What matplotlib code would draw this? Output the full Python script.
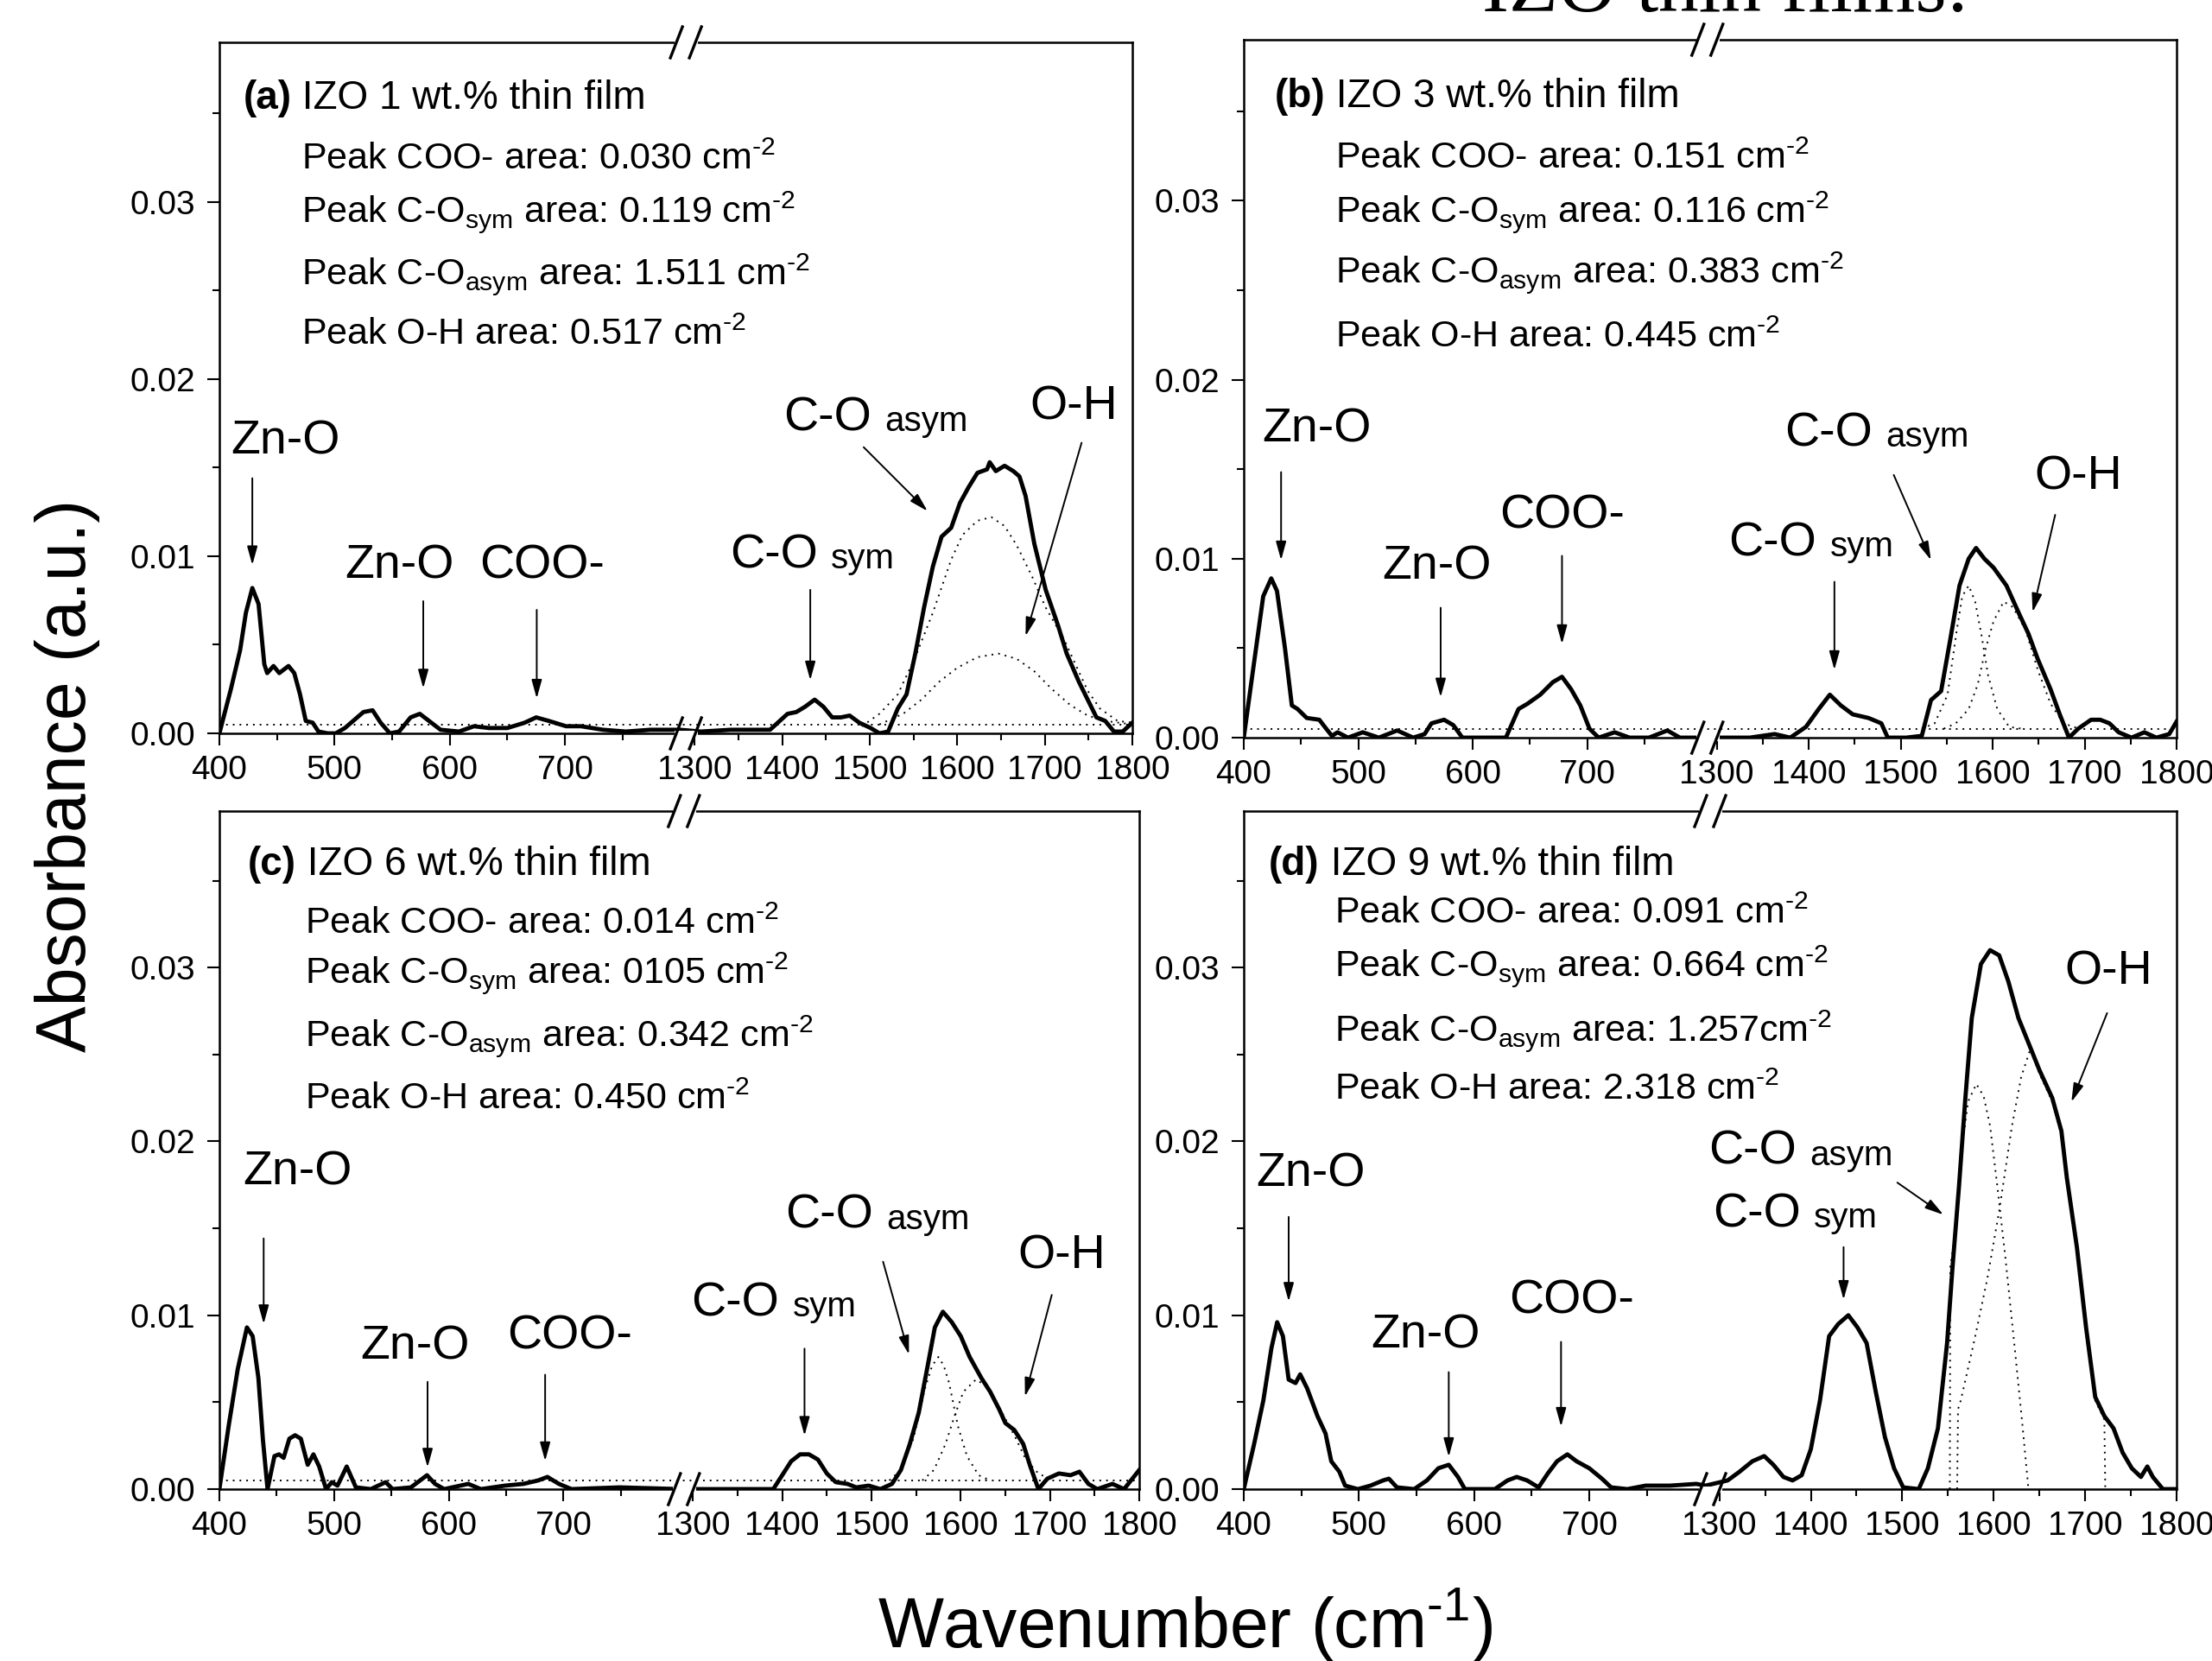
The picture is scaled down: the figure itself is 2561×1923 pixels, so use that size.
# FTIR spectra of IZO thin films, four panels with a broken wavenumber axis
import numpy as np
import matplotlib
matplotlib.use("Agg")
import matplotlib.pyplot as plt
from matplotlib.ticker import FixedLocator, FixedFormatter, MultipleLocator

plt.rcParams["font.family"] = ["Liberation Sans", "DejaVu Sans"]
plt.rcParams["mathtext.fontset"] = "custom"
plt.rcParams["mathtext.rm"] = "Liberation Sans"
plt.rcParams["mathtext.it"] = "Liberation Sans:italic"
plt.rcParams["mathtext.bf"] = "Liberation Sans:bold"

HY = "\u2010"  # short hyphen for the cm-2 / cm-1 superscripts

# ---- data: (wavenumber, absorbance) ----
a_spec = [(400, 0.0), (410, 0.0025), (418, 0.0047), (423, 0.0068), (428.6, 0.0082), (434, 0.0073),
          (439, 0.0039), (441.5, 0.0034), (447, 0.0038), (452, 0.0034), (460, 0.0038), (465, 0.0034),
          (470, 0.0022), (475, 0.0007), (481, 0.0006), (486, 0.0001), (494, 0.0), (501, 0.0),
          (509, 0.0003), (525, 0.0012), (533, 0.0013), (540, 0.0006), (548, 0.0), (556, 0.0001),
          (566, 0.0009), (574, 0.0011), (582, 0.0007), (592, 0.0002), (608, 0.0001), (621, 0.0004),
          (634, 0.0003), (650, 0.0003), (665, 0.0006), (675, 0.0009), (686, 0.0007), (701, 0.0004),
          (714, 0.0004), (733, 0.0002), (753, 0.0001), (774, 0.0002), (800, 0.0002), (1307, 0.0001),
          (1341, 0.0002), (1369, 0.0002), (1386, 0.0002), (1406, 0.0011), (1416, 0.0012), (1426, 0.0015),
          (1437, 0.0019), (1447, 0.0015), (1457, 0.0009), (1467, 0.0009), (1477, 0.0010), (1488, 0.0006),
          (1501, 0.0003), (1511, 0.0), (1521, 0.0001), (1532, 0.0014), (1542, 0.0022), (1552, 0.0045),
          (1562, 0.0071), (1572, 0.0094), (1582, 0.0111), (1593, 0.0116), (1603, 0.0130), (1613, 0.0139),
          (1623, 0.0147), (1634, 0.0149), (1637, 0.0153), (1644, 0.0148), (1654, 0.0151), (1664, 0.0148),
          (1671, 0.0145), (1678, 0.0134), (1688, 0.0107), (1701, 0.0081), (1715, 0.0061), (1725, 0.0045),
          (1739, 0.0029), (1749, 0.0019), (1759, 0.0009), (1769, 0.0007), (1779, 0.0001), (1789, 0.0001),
          (1800, 0.0006)]
a_asym = [(1491, 0.0004), (1511, 0.0011), (1532, 0.0022), (1552, 0.0043), (1572, 0.0068), (1593, 0.0098),
          (1606, 0.0112), (1623, 0.0120), (1639, 0.0122), (1654, 0.0117), (1668, 0.0106), (1685, 0.0089),
          (1701, 0.0071), (1722, 0.0053), (1735, 0.0039), (1749, 0.0024), (1763, 0.0014), (1783, 0.0007),
          (1800, 0.0006)]
a_oh = [(1511, 0.0005), (1538, 0.0011), (1559, 0.0019), (1579, 0.0029), (1600, 0.0037), (1623, 0.0043),
        (1647, 0.0045), (1668, 0.0042), (1688, 0.0035), (1708, 0.0025), (1729, 0.0016), (1749, 0.0010),
        (1769, 0.0007), (1800, 0.0005)]

b_spec = [(400, 0.0), (409, 0.0042), (417, 0.0079), (424, 0.0089), (429, 0.0082), (436, 0.0050),
          (442, 0.0018), (447, 0.0016), (455, 0.0011), (466, 0.0010), (472, 0.0005), (477, 0.0001),
          (482, 0.0003), (491, 0.0), (504, 0.0003), (518, 0.0), (534, 0.0004), (548, 0.0),
          (558, 0.0002), (564, 0.0008), (575, 0.0010), (583, 0.0007), (591, 0.0), (607, 0.0),
          (629, 0.0), (640, 0.0016), (648, 0.0019), (659, 0.0024), (670, 0.0031), (678, 0.0034),
          (686, 0.0027), (694, 0.0018), (702, 0.0005), (710, 0.0), (724, 0.0003), (737, 0.0),
          (754, 0.0), (770, 0.0004), (781, 0.0), (795, 0.0), (1309, 0.0), (1336, 0.0),
          (1363, 0.0002), (1380, 0.0), (1397, 0.0006), (1411, 0.0016), (1423, 0.0024), (1435, 0.0018),
          (1448, 0.0013), (1465, 0.0011), (1479, 0.0008), (1486, 0.0), (1506, 0.0), (1523, 0.0001),
          (1533, 0.0021), (1544, 0.0026), (1554, 0.0055), (1564, 0.0085), (1574, 0.0100), (1582, 0.0106),
          (1591, 0.0100), (1601, 0.0095), (1615, 0.0085), (1629, 0.0069), (1639, 0.0058), (1649, 0.0044),
          (1663, 0.0027), (1673, 0.0013), (1683, 0.0), (1693, 0.0005), (1707, 0.0010), (1717, 0.0010),
          (1727, 0.0008), (1737, 0.0003), (1751, 0.0), (1765, 0.0003), (1778, 0.0), (1792, 0.0002),
          (1800, 0.0009)]
b_asym = [(1523, 0.0005), (1537, 0.0008), (1551, 0.0024), (1561, 0.0060), (1567, 0.0079), (1574, 0.0085),
          (1581, 0.0076), (1588, 0.0057), (1595, 0.0035), (1605, 0.0016), (1618, 0.0006), (1632, 0.0005)]
b_oh = [(1547, 0.0005), (1560, 0.0008), (1574, 0.0016), (1584, 0.0030), (1592, 0.0049), (1601, 0.0065),
        (1612, 0.0076), (1622, 0.0073), (1636, 0.0060), (1649, 0.0038), (1663, 0.0019), (1677, 0.0008),
        (1694, 0.0005)]

c_spec = [(400, 0.0), (408, 0.0036), (416, 0.0069), (424, 0.0093), (429, 0.0088), (434, 0.0064),
          (438, 0.0028), (442, 0.0), (448, 0.0019), (452, 0.0020), (456, 0.0018), (461, 0.0029),
          (466, 0.0031), (471, 0.0029), (477, 0.0014), (482, 0.0020), (487, 0.0013), (493, 0.0),
          (498, 0.0004), (503, 0.0002), (511, 0.0013), (519, 0.0001), (532, 0.0), (545, 0.0004),
          (551, 0.0), (567, 0.0001), (575, 0.0005), (581, 0.0008), (588, 0.0003), (596, 0.0),
          (617, 0.0003), (628, 0.0), (649, 0.0002), (665, 0.0003), (678, 0.0005), (686, 0.0007),
          (696, 0.0003), (707, 0.0), (749, 0.0001), (802, 0.0), (1303, 0.0), (1363, 0.0),
          (1390, 0.0), (1400, 0.0008), (1410, 0.0016), (1420, 0.0020), (1430, 0.0020), (1440, 0.0017),
          (1450, 0.0009), (1460, 0.0004), (1473, 0.0003), (1483, 0.0001), (1497, 0.0002), (1510, 0.0),
          (1523, 0.0003), (1533, 0.0011), (1543, 0.0026), (1553, 0.0044), (1563, 0.0071), (1571, 0.0093),
          (1580, 0.0102), (1590, 0.0096), (1600, 0.0088), (1610, 0.0076), (1623, 0.0064), (1633, 0.0056),
          (1643, 0.0046), (1650, 0.0038), (1660, 0.0034), (1670, 0.0026), (1678, 0.0013), (1687, 0.0),
          (1697, 0.0006), (1710, 0.0009), (1723, 0.0008), (1733, 0.0010), (1743, 0.0003), (1753, 0.0),
          (1770, 0.0003), (1783, 0.0), (1800, 0.0011)]
c_asym = [(1520, 0.0005), (1533, 0.0011), (1547, 0.0029), (1560, 0.0058), (1568, 0.0071), (1575, 0.0076),
          (1581, 0.0071), (1587, 0.0061), (1597, 0.0036), (1607, 0.0019), (1620, 0.0008), (1633, 0.0005)]
c_oh = [(1557, 0.0005), (1570, 0.0011), (1583, 0.0026), (1593, 0.0042), (1603, 0.0056), (1617, 0.0063),
        (1630, 0.0059), (1643, 0.0047), (1660, 0.0031), (1673, 0.0017), (1687, 0.0009), (1703, 0.0005)]

d_spec = [(400, 0.0), (409, 0.0026), (417, 0.0051), (424, 0.0081), (429, 0.0096), (434, 0.0088),
          (439, 0.0063), (445, 0.0061), (449, 0.0066), (455, 0.0058), (464, 0.0042), (471, 0.0032),
          (476, 0.0016), (483, 0.0010), (488, 0.0002), (499, 0.0), (510, 0.0002), (521, 0.0005),
          (526, 0.0006), (533, 0.0001), (548, 0.0), (559, 0.0005), (569, 0.0012), (578, 0.0014),
          (586, 0.0007), (592, 0.0), (618, 0.0), (629, 0.0005), (637, 0.0007), (646, 0.0005),
          (656, 0.0001), (664, 0.0009), (672, 0.0016), (681, 0.0020), (689, 0.0016), (700, 0.0012),
          (711, 0.0006), (719, 0.0001), (733, 0.0), (749, 0.0002), (770, 0.0002), (793, 0.0003),
          (801, 0.0002), (1309, 0.0005), (1322, 0.0010), (1336, 0.0016), (1349, 0.0019), (1359, 0.0014),
          (1370, 0.0007), (1380, 0.0005), (1390, 0.0008), (1400, 0.0023), (1410, 0.0051), (1420, 0.0088),
          (1430, 0.0095), (1441, 0.0100), (1451, 0.0093), (1461, 0.0084), (1471, 0.0056), (1481, 0.0030),
          (1491, 0.0012), (1501, 0.0001), (1518, 0.0), (1528, 0.0012), (1539, 0.0035), (1549, 0.0084),
          (1555, 0.0128), (1562, 0.0174), (1569, 0.0225), (1576, 0.0271), (1586, 0.0302), (1596, 0.0310),
          (1606, 0.0307), (1616, 0.0292), (1627, 0.0271), (1637, 0.0258), (1650, 0.0241), (1664, 0.0225),
          (1674, 0.0206), (1680, 0.0179), (1691, 0.0139), (1701, 0.0093), (1711, 0.0053), (1721, 0.0042),
          (1731, 0.0035), (1741, 0.0021), (1751, 0.0012), (1761, 0.0007), (1768, 0.0013), (1774, 0.0007),
          (1785, 0.0), (1800, 0.0)]
d_asym = [(1552, 0.0), (1552.5, 0.0128), (1559, 0.0151), (1565.5, 0.0197), (1572, 0.0223), (1581, 0.0233),
          (1589, 0.0226), (1596, 0.0209), (1604, 0.0174), (1613, 0.0132), (1623, 0.0081), (1631, 0.0039),
          (1638, 0.0)]
d_oh = [(1560, 0.0), (1561, 0.0046), (1564, 0.0051), (1579, 0.0086), (1593, 0.0121), (1606, 0.0160),
        (1620, 0.0209), (1630, 0.0237), (1640, 0.0253), (1650, 0.0239), (1664, 0.0223), (1674, 0.0204),
        (1680, 0.0177), (1691, 0.0137), (1701, 0.0091), (1711, 0.0051), (1721, 0.0040), (1722, 0.0)]

baseline_x = [400, 1800]
baseline_y = [0.0005, 0.0005]

titles = ["IZO 1 wt.% thin film", "IZO 3 wt.% thin film", "IZO 6 wt.% thin film", "IZO 9 wt.% thin film"]
panel_tags = ["(a)", "(b)", "(c)", "(d)"]
coo_area = ["0.030 cm", "0.151 cm", "0.014 cm", "0.091 cm"]
sym_area = ["0.119 cm", "0.116 cm", "0105 cm", "0.664 cm"]
asym_area = ["1.511 cm", "0.383 cm", "0.342 cm", "1.257cm"]
oh_area = ["0.517 cm", "0.445 cm", "0.450 cm", "2.318 cm"]

major_ticks = [400, 500, 600, 700, 1300, 1400, 1500, 1600, 1700, 1800]
minor_ticks = [450, 550, 650, 750, 1350, 1450, 1550, 1650, 1750]

# ---- layout ----
W, H = 2561, 1923


def rect(l, t, r, b):
    return [l / W, 1 - b / H, (r - l) / W, (b - t) / H]


panels = [
    dict(rect=rect(254, 49, 1311, 849), brk=0.511, spec=a_spec, fits=[a_asym, a_oh], base=True,
         tx=(0.026, 0.904), lx=0.090, ly=[0.816, 0.740, 0.650, 0.562],
         labels=[("Zn-O", "", 0.013, 0.405), ("Zn-O", "", 0.137, 0.225), ("COO-", "", 0.285, 0.225),
                 ("C-O", "sym", 0.559, 0.2395), ("C-O", "asym", 0.6176, 0.4385), ("O-H", "", 0.888, 0.454)],
         arrows=[((428.6, 0.0144), (428.6, 0.0095)), ((577, 0.00746), (577, 0.00254)),
                 ((675.5, 0.00697), (675.5, 0.00197)), ((1432, 0.0081), (1432, 0.0030)),
                 ((1493, 0.01615), (1566, 0.01254)), ((1742, 0.0164), (1678, 0.00549))]),
    dict(rect=rect(1440, 46, 2520, 854), brk=0.497, spec=b_spec, fits=[b_asym, b_oh], base=True,
         tx=(0.033, 0.903), lx=0.098, ly=[0.816, 0.739, 0.652, 0.559],
         labels=[("Zn-O", "", 0.020, 0.424), ("Zn-O", "", 0.1486, 0.2274), ("COO-", "", 0.2744, 0.2997),
                 ("C-O", "sym", 0.520, 0.261), ("C-O", "asym", 0.580, 0.4177), ("O-H", "", 0.848, 0.3556)],
         arrows=[((432.6, 0.01484), (432.6, 0.00992)), ((572, 0.00726), (572, 0.00226)),
                 ((678, 0.01016), (678, 0.00524)), ((1428, 0.00871), (1428, 0.00379)),
                 ((1492.5, 0.01468), (1533, 0.00992)), ((1668, 0.01245), (1643.5, 0.00702))]),
    dict(rect=rect(254, 939, 1319, 1724), brk=0.505, spec=c_spec, fits=[c_asym, c_oh], base=True,
         tx=(0.031, 0.906), lx=0.093, ly=[0.819, 0.746, 0.653, 0.561],
         labels=[("Zn-O", "", 0.026, 0.449), ("Zn-O", "", 0.153, 0.192), ("COO-", "", 0.3127, 0.207),
                 ("C-O", "sym", 0.513, 0.256), ("C-O", "asym", 0.6156, 0.385), ("O-H", "", 0.8678, 0.326)],
         arrows=[((438.6, 0.01442), (438.6, 0.0095)), ((581.5, 0.00617), (581.5, 0.00125)),
                 ((684, 0.00658), (684, 0.00162)), ((1425, 0.00808), (1425, 0.00308)),
                 ((1513, 0.01308), (1542, 0.00775)), ((1702, 0.01117), (1672, 0.00533))]),
    dict(rect=rect(1440, 939, 2520, 1724), brk=0.500, spec=d_spec, fits=[d_asym, d_oh], base=False,
         tx=(0.027, 0.906), lx=0.097, ly=[0.834, 0.757, 0.661, 0.574],
         labels=[("Zn-O", "", 0.0134, 0.446), ("Zn-O", "", 0.1365, 0.208), ("COO-", "", 0.2845, 0.2587),
                 ("C-O", "asym", 0.498, 0.479), ("C-O", "sym", 0.503, 0.387), ("O-H", "", 0.880, 0.745)],
         arrows=[((439, 0.01566), (439, 0.01079)), ((578, 0.00673), (578, 0.00186)),
                 ((675.5, 0.00847), (675.5, 0.0036)), ((1435.8, 0.01392), (1435.8, 0.0109)),
                 ((1494.6, 0.01763), (1545, 0.01578)), ((1724, 0.02738), (1685, 0.02227))]),
]


def broken_scale(frac, b0=805.0, b1=1290.0):
    eps = 1e-4

    def fwd(x):
        x = np.asarray(x, dtype=float)
        left = (x - 400) / (b0 - 400) * frac
        mid = frac + (x - b0) / (b1 - b0) * eps
        right = frac + eps + (x - b1) / (1800 - b1) * (1 - frac - eps)
        return np.where(x <= b0, left, np.where(x >= b1, right, mid))

    def inv(u):
        u = np.asarray(u, dtype=float)
        left = 400 + u / frac * (b0 - 400)
        mid = b0 + (u - frac) / eps * (b1 - b0)
        right = b1 + (u - frac - eps) / (1 - frac - eps) * (1800 - b1)
        return np.where(u <= frac, left, np.where(u >= frac + eps, right, mid))

    return fwd, inv


fig = plt.figure(figsize=(W / 100, H / 100), dpi=100)
sup2 = r"$^{\mathregular{" + HY + "2}}$"

for i, p in enumerate(panels):
    ax = fig.add_axes(p["rect"])
    ax.set_xscale("function", functions=broken_scale(p["brk"]))
    ax.set_xlim(400, 1800)
    ax.set_ylim(0, 0.039)

    xs, ys = zip(*p["spec"])
    ax.plot(xs, ys, color="black", lw=3.5, solid_joinstyle="round", zorder=4)
    for fit in p["fits"]:
        fx, fy = zip(*fit)
        ax.plot(fx, fy, color="black", lw=1.4, ls=(0, (1, 3)), zorder=3)
    if p["base"]:
        ax.plot(baseline_x, baseline_y, color="black", lw=1.4, ls=(0, (1, 3)), zorder=3)

    ax.xaxis.set_major_locator(FixedLocator(major_ticks))
    ax.xaxis.set_major_formatter(FixedFormatter([str(t) for t in major_ticks]))
    ax.xaxis.set_minor_locator(FixedLocator(minor_ticks))
    ax.yaxis.set_major_locator(MultipleLocator(0.01))
    ax.yaxis.set_minor_locator(MultipleLocator(0.005))
    ax.yaxis.set_major_formatter(plt.FormatStrFormatter("%.2f"))
    ax.tick_params(which="major", direction="out", length=10, width=1.5, labelsize=28, top=False, right=False)
    ax.tick_params(axis="x", which="major", pad=8)
    ax.tick_params(axis="y", which="major", pad=10)
    ax.tick_params(which="minor", direction="out", length=6, width=1.5, top=False, right=False)
    for s in ax.spines.values():
        s.set_linewidth(1.8)

    # axis break marks on top and bottom spines
    bb = ax.get_position()
    wpx, hpx = bb.width * W, bb.height * H
    b = p["brk"]
    for yb in (0.0, 1.0):
        ax.plot([b - 10 / wpx, b + 10 / wpx], [yb, yb], color="white", lw=5, transform=ax.transAxes,
                clip_on=False, zorder=10)
        for off in (-11, 11):
            cx = b + off / wpx
            ax.plot([cx - 7 / wpx, cx + 7 / wpx], [yb - 18 / hpx, yb + 18 / hpx], color="black", lw=2.4,
                    transform=ax.transAxes, clip_on=False, zorder=11)

    # panel heading and peak areas
    t = ax.text(p["tx"][0], p["tx"][1], panel_tags[i], transform=ax.transAxes, fontsize=33,
                fontweight="bold", va="baseline", ha="left")
    ax.annotate(" " + titles[i], xy=(1, 0), xycoords=t, fontsize=33, va="bottom", ha="left")
    lines = [
        "Peak COO- area: " + coo_area[i] + sup2,
        r"Peak C-O$_{\mathregular{sym}}$ area: " + sym_area[i] + sup2,
        r"Peak C-O$_{\mathregular{asym}}$ area: " + asym_area[i] + sup2,
        "Peak O-H area: " + oh_area[i] + sup2,
    ]
    for txt, yy in zip(lines, p["ly"]):
        ax.text(p["lx"], yy, txt, transform=ax.transAxes, fontsize=31, va="baseline", ha="left")

    # peak labels
    for main, suf, lx, ly in p["labels"]:
        t1 = ax.text(lx, ly, main, transform=ax.transAxes, fontsize=40, va="baseline", ha="left")
        if suf:
            ax.annotate(suf, xy=(1, 0), xycoords=t1, xytext=(11, 2.3), textcoords="offset points",
                        fontsize=29, va="bottom", ha="left")
    for tail, tip in p["arrows"]:
        ax.annotate("", xy=tip, xytext=tail,
                    arrowprops=dict(arrowstyle="-|>,head_length=0.65,head_width=0.18", color="black",
                                    lw=1.4, mutation_scale=20, shrinkA=0, shrinkB=0))

fig.text(78 / W, 1 - 898 / H, "Absorbance (a.u.)", rotation=90, fontsize=58, ha="center", va="center")
fig.text(1372 / W, 1 - 1907 / H, r"Wavenumber (cm$^{\mathregular{" + HY + "1}}$)", fontsize=58,
         ha="center", va="baseline")
# title of the full figure, mostly cut off at the top edge
fig.text(1716 / W, 1 - 13 / H, "IZO thin films:", fontsize=67, family=["Liberation Serif", "DejaVu Serif"],
         ha="left", va="baseline")

fig.savefig("out.png", dpi=100)
